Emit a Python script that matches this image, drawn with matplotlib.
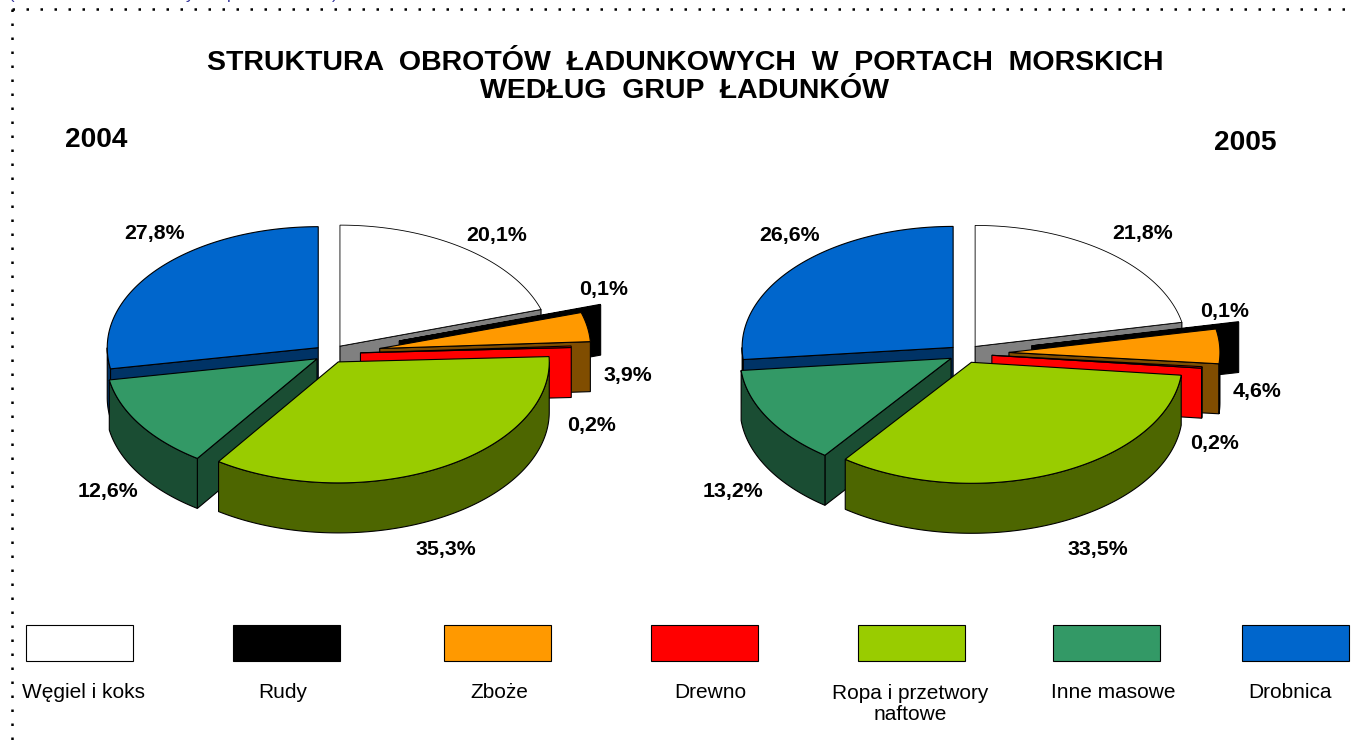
import numpy as np
import matplotlib
matplotlib.use('Agg')
import matplotlib.pyplot as plt
from matplotlib.patches import Polygon, Rectangle

plt.rcParams['font.family'] = ['Liberation Sans', 'DejaVu Sans']

categories = ['Węgiel i koks', 'Rudy', 'Zboże', 'Drewno', 'Ropa i przetwory\nnaftowe', 'Inne masowe', 'Drobnica']
values_2004 = [20.1, 0.1, 3.9, 0.2, 35.3, 12.6, 27.8]
values_2005 = [21.8, 0.1, 4.6, 0.2, 33.5, 13.2, 26.6]
title = 'STRUKTURA  OBROTÓW  ŁADUNKOWYCH  W  PORTACH  MORSKICH\nWEDŁUG  GRUP  ŁADUNKÓW'

top_colors = ['#ffffff', '#000000', '#ff9900', '#ff0000', '#99cc00', '#339966', '#0066cc']
side_colors = ['#808080', '#000000', '#804d00', '#ff0000', '#4d6600', '#1a4d33', '#003366']

# how far each slice is pulled out of the pie, in pixels
explode_2004 = [16, 72, 50, 30, 16, 16, 16]
explode_2005 = [16, 68, 44, 27, 16, 16, 16]
label_pos_2004 = [(497, 236), (604, 289), (628, 376), (592, 426), (446, 549), (108, 492), (155, 234)]
label_pos_2005 = [(1143, 234), (1225, 311), (1257, 392), (1215, 443), (1098, 549), (733, 492), (790, 236)]
swatch_x = [26, 233, 444, 651, 858, 1053, 1242]
legend_label_x = [83, 283, 499, 710, 910, 1113, 1290]

RX, RY, DEPTH = 211, 121, 50
SQUASH = 0.586


def rim(cx, cy, a1, a2):
    t = np.radians(np.linspace(a1, a2, max(int(a2 - a1) * 2, 2)))
    return np.column_stack([cx + RX * np.sin(t), cy - RY * np.cos(t)])


def draw_pie(ax, values, explode, cx, cy, label_pos):
    values = np.array(values)
    ends = np.cumsum(values) / values.sum() * 360
    starts = ends - values / values.sum() * 360

    # back to front: white, black, orange, red, then blue, green, lime
    for k in [0, 1, 2, 3, 6, 5, 4]:
        a1, a2 = starts[k], ends[k]
        mid = np.radians((a1 + a2) / 2)
        apex = np.array([cx + explode[k] * np.sin(mid), cy - explode[k] * SQUASH * np.cos(mid)])
        edge = rim(apex[0], apex[1], a1, a2)
        down = np.array([0, DEPTH])

        # only the walls that face the viewer
        if np.sin(np.radians(a1)) < 0:
            p = edge[0]
            ax.add_patch(Polygon([apex, p, p + down, apex + down], fc=side_colors[k], ec='black', lw=0.8))
        if np.sin(np.radians(a2)) > 0:
            p = edge[-1]
            ax.add_patch(Polygon([apex, p, p + down, apex + down], fc=side_colors[k], ec='black', lw=0.8))
        w1, w2 = max(a1, 90), min(a2, 270)
        if w2 > w1:
            front = rim(apex[0], apex[1], w1, w2)
            ax.add_patch(Polygon(np.vstack([front, (front + down)[::-1]]), fc=side_colors[k], ec='black', lw=0.8))

        lw = 0.6 if k == 0 else 0.8
        ax.add_patch(Polygon(np.vstack([apex, edge]), fc=top_colors[k], ec='black', lw=lw))

    for v, (x, y) in zip(values, label_pos):
        ax.text(x, y, f'{v:.1f}%'.replace('.', ','), ha='center', va='center', fontsize=15.4, fontweight='bold')


fig = plt.figure(figsize=(13.54, 7.42), dpi=100)
ax = fig.add_axes([0, 0, 1, 1])
ax.set_xlim(0, 1354)
ax.set_ylim(742, 0)
ax.axis('off')

# dotted frame of the page
ax.plot([12, 1354], [9, 9], color='black', lw=1.8, ls=(0, (1, 4.6)))
ax.plot([12, 12], [9, 742], color='black', lw=1.8, ls=(0, (1, 4.6)))

# cut off line of text above the frame
for x, s in [(12, '('), (190, 'y'), (232, 'p'), (335, ')')]:
    ax.text(x, -6, s, color='#33339a', fontsize=12, ha='center', va='center')

ax.text(685, 77, title, ha='center', va='center', fontsize=20.5, fontweight='bold', linespacing=1.08)
ax.text(96, 140, '2004', ha='center', va='center', fontsize=20.2, fontweight='bold')
ax.text(1245, 143, '2005', ha='center', va='center', fontsize=20.2, fontweight='bold')

draw_pie(ax, values_2004, explode_2004, 330.5, 353.7, label_pos_2004)
draw_pie(ax, values_2005, explode_2005, 965, 353.7, label_pos_2005)

for x, c, name, lx in zip(swatch_x, top_colors, categories, legend_label_x):
    ax.add_patch(Rectangle((x, 625), 107, 36, fc=c, ec='black', lw=0.8))
    if '\n' in name:
        ax.text(lx, 684, name, ha='center', va='top', fontsize=15, linespacing=1.1)
    else:
        ax.text(lx, 693, name, ha='center', va='center', fontsize=15)

fig.savefig('out.png', dpi=100)
